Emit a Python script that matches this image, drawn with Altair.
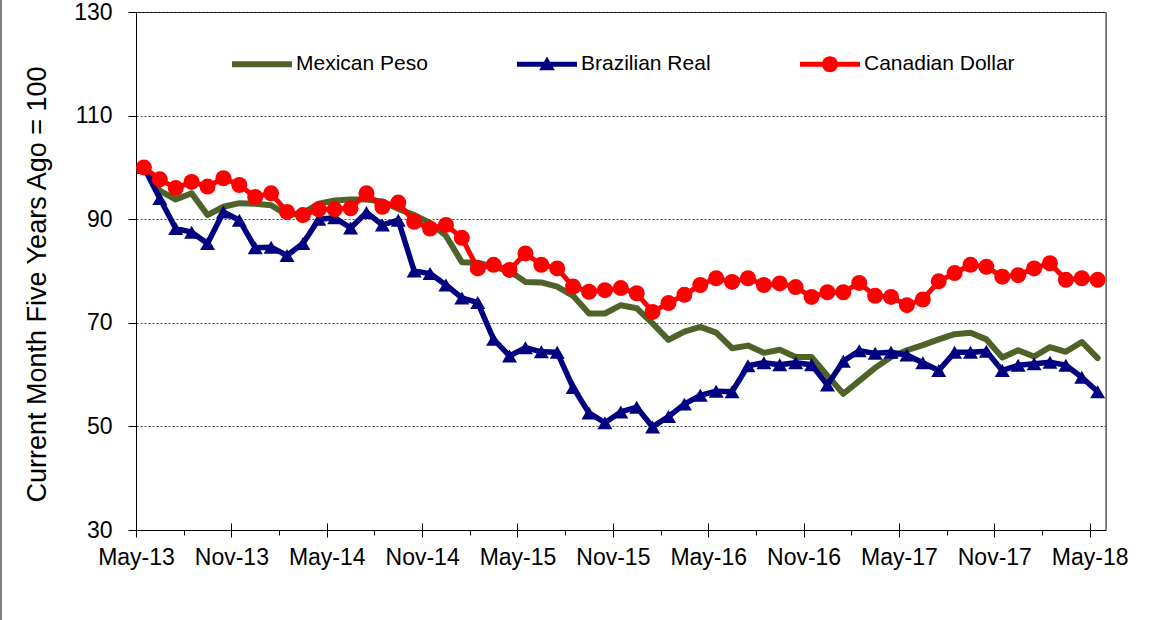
import json

import altair as alt
import pandas as pd

# Monthly index values (same month five years earlier = 100), May-13 .. May-18
series_names = ["Mexican Peso", "Brazilian Real", "Canadian Dollar"]
series_colors = ["#4F6228", "#000080", "#FF0000"]

tick_labels = ["May-13", "Nov-13", "May-14", "Nov-14", "May-15", "Nov-15",
               "May-16", "Nov-16", "May-17", "Nov-17", "May-18"]

mexican_peso = [
    100, 95.5, 93.8, 95.0, 90.8, 92.4, 93.1, 93.0, 92.7, 90.8,
    91.2, 93.0, 93.6, 93.8, 93.8, 93.4, 92.0, 90.8, 89.3, 86.8,
    81.7, 81.6, 80.8, 80.0, 77.9, 77.8, 77.0, 75.2, 71.8, 71.8,
    73.4, 72.8, 69.9, 66.7, 68.3, 69.2, 68.1, 65.1, 65.6, 64.2,
    64.8, 63.4, 63.4, 59.8, 56.3, 58.8, 61.3, 63.4, 64.7, 65.7,
    66.8, 67.8, 68.1, 66.8, 63.3, 64.7, 63.5, 65.3, 64.4, 66.3, 63.2,
]
brazilian_real = [
    100, 94.0, 88.2, 87.5, 85.3, 91.4, 89.8, 84.5, 84.6, 83.0,
    85.3, 90.0, 90.3, 88.3, 91.3, 88.9, 89.8, 80.0, 79.5, 77.3,
    74.8, 73.9, 66.8, 63.6, 65.2, 64.4, 64.3, 57.5, 52.6, 50.7,
    52.8, 53.7, 49.9, 51.9, 54.3, 56.0, 56.8, 56.7, 61.7, 62.3,
    61.9, 62.3, 61.9, 58.0, 62.6, 64.6, 64.1, 64.3, 63.8, 62.3,
    60.8, 64.3, 64.3, 64.5, 60.8, 61.8, 62.1, 62.4, 61.8, 59.5, 56.7,
]
canadian_dollar = [
    100, 97.7, 96.0, 97.2, 96.3, 97.9, 96.6, 94.3, 95.0, 91.4,
    90.8, 91.9, 91.9, 92.1, 95.0, 92.4, 93.2, 89.5, 88.2, 88.9,
    86.4, 80.5, 81.2, 80.2, 83.4, 81.2, 80.5, 77.0, 76.0, 76.3,
    76.7, 75.7, 72.1, 73.8, 75.4, 77.3, 78.6, 77.9, 78.6, 77.3,
    77.6, 76.9, 75.0, 75.9, 75.9, 77.7, 75.2, 75.0, 73.4, 74.5,
    78.0, 79.6, 81.2, 80.8, 78.9, 79.2, 80.5, 81.5, 78.3, 78.6, 78.3,
]

rows = []
for name, values in zip(series_names, [mexican_peso, brazilian_real, canadian_dollar]):
    for i, v in enumerate(values):
        # each month sits in the middle of its category slot
        rows.append({"series": name, "month": i + 0.5, "value": v})
df = pd.DataFrame(rows)

FONT = "Liberation Sans"
n_months = len(mexican_peso)

x_scale = alt.Scale(domain=[0, n_months], nice=False, zero=False)
y_scale = alt.Scale(domain=[30, 130], nice=False, zero=False)

major_values = list(range(0, n_months, 6))
minor_values = list(range(3, n_months, 6))
label_expr = json.dumps(tick_labels) + "[round(datum.value / 6)]"

y_axis = alt.Axis(
    values=[30, 50, 70, 90, 110, 130],
    title="Current Month Five Years Ago = 100",
    grid=True, gridDash=[2, 2], gridColor="#444444", gridWidth=1,
    tickSize=8, tickColor="black", domainColor="black",
    labelFontSize=23, labelPadding=16, labelColor="black",
    titleFontSize=27, titleFontWeight="normal", titlePadding=22, titleColor="black",
    titleY=272,
)
x_label_axis = alt.Axis(
    orient="bottom", values=major_values, labelExpr=label_expr, ticks=False,
    grid=False, domainColor="black", labelFontSize=23, labelPadding=16,
    labelColor="black", title=None, labelOverlap=False, labelFlush=False,
)
x_major_axis = alt.Axis(
    orient="bottom", values=major_values, labels=False, domain=False,
    tickSize=14, offset=-7, tickColor="black", grid=False, title=None,
)
x_minor_axis = alt.Axis(
    orient="bottom", values=minor_values, labels=False, domain=False,
    tickSize=5, tickColor="black", grid=False, title=None,
)

# legend symbols: a line segment, optionally with the series marker in its middle
# (all sub-paths wound clockwise so the overlaps stay filled)
legend_paths = [
    "M-1,-0.4 L7,-0.4 L7,0.4 L-1,0.4 Z",
    "M-1,-0.33 L7,-0.33 L7,0.33 L-1,0.33 Z M3,-1.05 L4.05,0.8 L1.95,0.8 Z",
    "M-1,-0.33 L7,-0.33 L7,0.33 L-1,0.33 Z "
    "M1.93,0 A1.07,1.07 0 1,1 4.07,0 A1.07,1.07 0 1,1 1.93,0 Z",
]
legend_cfg = alt.Legend(
    orient="none", legendX=93, legendY=41.5, direction="horizontal", title=None,
    labelFont=FONT, labelFontSize=21, labelColor="black", labelOffset=46,
    symbolSize=225, symbolStrokeWidth=0, columnPadding=86, padding=0,
)

base = alt.Chart(df)


def one(name):
    return base.transform_filter(alt.datum.series == name)


def xy(axis):
    return dict(
        x=alt.X("month:Q", scale=x_scale, axis=axis),
        y=alt.Y("value:Q", scale=y_scale, axis=y_axis),
    )


line_style = dict(strokeJoin="round", strokeCap="round")

peso_line = one("Mexican Peso").mark_line(
    color=series_colors[0], strokeWidth=6, **line_style
).encode(**xy(x_label_axis))

real_line = one("Brazilian Real").mark_line(
    color=series_colors[1], strokeWidth=5.5, **line_style
).encode(**xy(x_major_axis))

real_pts = one("Brazilian Real").mark_point(
    shape="triangle-up", filled=True, size=225, color=series_colors[1], opacity=1
).encode(**xy(x_minor_axis))

cad_line = one("Canadian Dollar").mark_line(
    color=series_colors[2], strokeWidth=5, **line_style
).encode(**xy(None))

cad_pts = one("Canadian Dollar").mark_point(
    shape="circle", filled=True, size=256, color=series_colors[2], opacity=1
).encode(**xy(None))

legend_layer = base.transform_filter(alt.datum.value > 1000).mark_point(
    filled=True, opacity=1
).encode(
    **xy(None),
    color=alt.Color("series:N", scale=alt.Scale(domain=series_names, range=series_colors),
                    legend=legend_cfg),
    shape=alt.Shape("series:N", scale=alt.Scale(domain=series_names, range=legend_paths),
                    legend=legend_cfg),
)

# outer frame line on the left edge of the chart area
chart_edge = alt.Chart(df).mark_rule(color="#7F7F7F", strokeWidth=2).encode(
    x=alt.value(-135), y=alt.value(-12), y2=alt.value(608)
)

chart = (
    alt.layer(peso_line, real_line, real_pts, cad_line, cad_pts, legend_layer, chart_edge)
    .resolve_axis(x="independent")
    .properties(
        width=969.6, height=518,
        padding={"left": 136, "top": 12, "right": 66.4, "bottom": 90},
        autosize=alt.AutoSizeParams(type="none"),
        background="white",
    )
    .configure_view(stroke="black", strokeWidth=1)
    .configure_axis(labelFont=FONT, titleFont=FONT)
)

chart.save("out.html", embed_options={"renderer": "svg", "actions": False})
